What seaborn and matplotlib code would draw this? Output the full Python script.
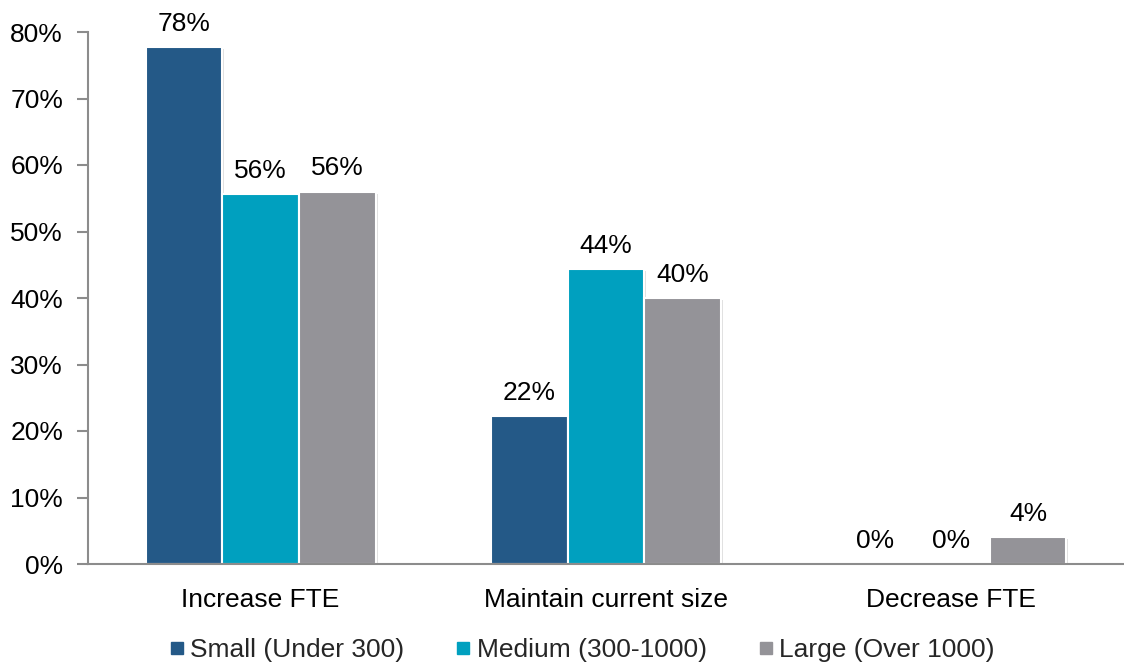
import matplotlib
matplotlib.use("Agg")
import matplotlib.pyplot as plt
import matplotlib.patheffects as pe
from matplotlib.lines import Line2D
import seaborn as sns
import pandas as pd

categories = ["Increase FTE", "Maintain current size", "Decrease FTE"]
sizes = ["Small (Under 300)", "Medium (300-1000)", "Large (Over 1000)"]
small = [77.8, 22.2, 0.0]
medium = [55.6, 44.4, 0.0]
large = [56.0, 40.0, 4.0]
colors = ["#245987", "#00A0BF", "#949398"]
ytick_values = [0, 10, 20, 30, 40, 50, 60, 70, 80]

df = pd.DataFrame({
    "category": categories * 3,
    "size": [sizes[0]] * 3 + [sizes[1]] * 3 + [sizes[2]] * 3,
    "pct": small + medium + large,
})

sns.set_theme(style="white")
plt.rcParams["font.family"] = ["Liberation Sans", "DejaVu Sans"]
FS = 19

fig = plt.figure(figsize=(11.24, 6.67), dpi=100)
ax = fig.add_axes([88 / 1124, 103 / 667, 1036 / 1124, 532 / 667])

sns.barplot(data=df, x="category", y="pct", hue="size", order=categories,
            hue_order=sizes, palette=colors, saturation=1, width=0.666, gap=0,
            edgecolor="white", linewidth=1.5, legend=False, ax=ax)

shadow = [pe.SimplePatchShadow(offset=(1.5, -1.5), shadow_rgbFace="black", alpha=0.12), pe.Normal()]
for cont in ax.containers:
    for patch in cont:
        patch.set_path_effects(shadow)
    ax.bar_label(cont, labels=[f"{v.get_height():.0f}%" for v in cont],
                 padding=8, fontsize=FS, color="black")

ax.set_ylim(0, 80)
ax.set_xlim(-0.5, -0.5 + 1036 / 347)
ax.set_yticks(ytick_values)
ax.set_yticklabels([f"{v}%" for v in ytick_values])
ax.set_xlabel("")
ax.set_ylabel("")

# category labels centered, tick marks on group boundaries
ax.set_xticks(range(len(categories)))
ax.set_xticklabels(categories)
ax.tick_params(axis="x", which="major", length=0, pad=17, labelsize=FS, colors="black")
ax.set_xticks([-0.5, 0.5, 1.5, 2.5], minor=True)
ax.tick_params(axis="x", which="minor", length=8, width=1.5, color="#8c8c8c", direction="out")
ax.tick_params(axis="y", length=8, width=1.5, color="#8c8c8c", pad=10,
               labelsize=FS, labelcolor="black", direction="out", left=True)

for side in ["top", "right"]:
    ax.spines[side].set_visible(False)
for side in ["left", "bottom"]:
    ax.spines[side].set_color("#8c8c8c")
    ax.spines[side].set_linewidth(1.5)
ax.grid(False)

handles = [Line2D([], [], marker="s", linestyle="none", markersize=8,
                  markerfacecolor=c, markeredgecolor=c) for c in colors]
fig.legend(handles, sizes, loc="center", bbox_to_anchor=(581 / 1124, 1 - 650 / 667),
           ncol=3, frameon=False, fontsize=FS, handletextpad=0.15,
           columnspacing=1.9, handlelength=0.7)

fig.savefig("out.png", dpi=100)
